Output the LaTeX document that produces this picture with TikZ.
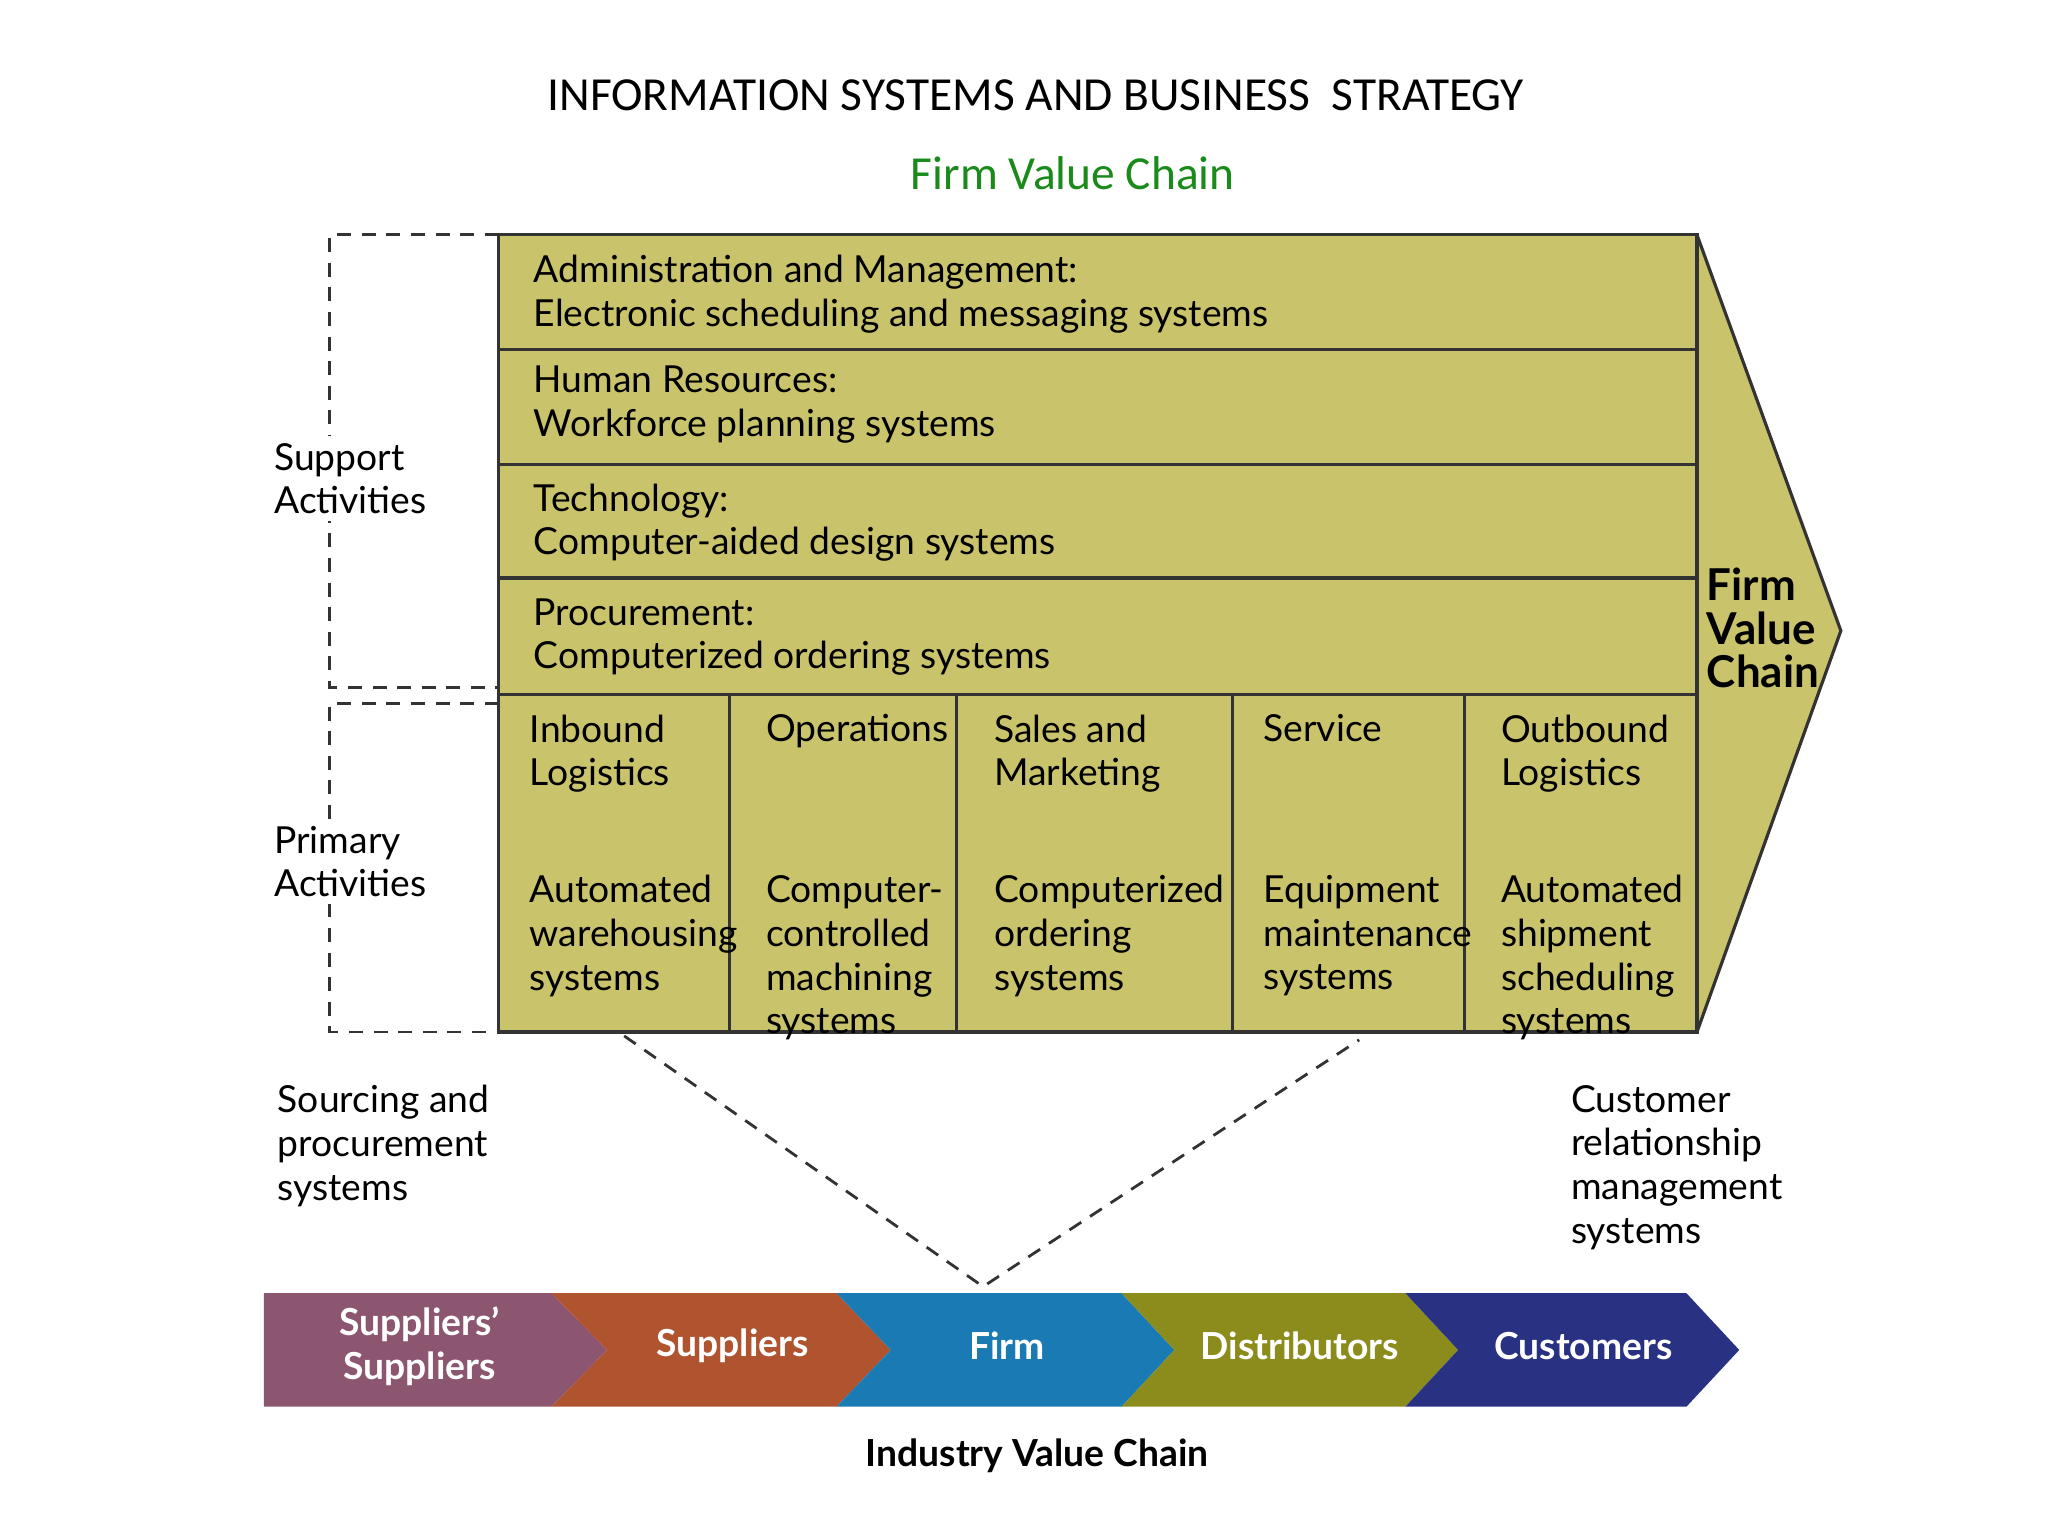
\documentclass[tikz,border=0pt]{standalone}
\usepackage{fontspec}
\setmainfont{Lato}
\newfontfamily\titlefont{Carlito}
\begin{document}
\begin{tikzpicture}[x=0.013196cm,y=-0.013196cm,
  txt/.style={anchor=north west,align=left,font=\fontsize{10.6}{12.4}\selectfont,inner sep=0pt},
  box/.style={draw=black!80,line width=0.9pt},
  dsh/.style={dashed,line width=0.8pt,black!80,dash pattern=on 4pt off 3pt},
  chain/.style={white,font=\bfseries\fontsize{10.6}{12.4}\selectfont,align=center}]
\definecolor{olv}{HTML}{C9C46B}
\definecolor{c1}{HTML}{8C5570}
\definecolor{c2}{HTML}{B0532F}
\definecolor{c3}{HTML}{1A7AB3}
\definecolor{c4}{HTML}{8B8C1C}
\definecolor{c5}{HTML}{283182}
\definecolor{grn}{HTML}{1A8A1A}
\useasboundingbox (0,0) rectangle (1552,1164);
\node[font=\titlefont\fontsize{13.5}{16}\selectfont] (title) at (785,72) {INFORMATION SYSTEMS AND BUSINESS\ \ STRATEGY};
\node[font=\titlefont\fontsize{13.5}{16}\selectfont,text=grn] (sub) at (813,131) {Firm Value Chain};
% main shape
\fill[olv] (378,178) -- (1286,178) -- (1395,478) -- (1286,782) -- (378,782) -- cycle;
\draw[box] (1286,178) -- (1395,478) -- (1286,782);
\draw[box] (378,178) rectangle (1286,782);
\draw[dsh,line width=0.9pt] (1286,178) -- (1286,782);
\foreach \y in {265,352,438,526} \draw[box] (378,\y) -- (1286,\y);
\foreach \x in {553,725,934,1110} \draw[box] (\x,526) -- (\x,782);
\node[txt] (a1) at (404,193) {Administration and Management:\\Electronic scheduling and messaging systems};
\node[txt] (a2) at (404,277) {Human Resources:\\Workforce planning systems};
\node[txt] (a3) at (404,366) {Technology:\\Computer-aided design systems};
\node[txt] (a4) at (404,453) {Procurement:\\Computerized ordering systems};
\node[txt] (p1) at (401,541) {Inbound\\Logistics\\[21pt]Automated\\warehousing\\systems};
\node[txt] (p2) at (580,541) {Operations\\\phantom{X}\\[21pt]Computer-\\controlled\\machining\\systems};
\node[txt] (p3) at (753,541) {Sales and\\Marketing\\[21pt]Computerized\\ordering\\systems};
\node[txt] (p4) at (957,541) {Service\\\phantom{X}\\[21pt]Equipment\\maintenance\\systems};
\node[txt] (p5) at (1137,541) {Outbound\\Logistics\\[21pt]Automated\\shipment\\scheduling\\systems};
\node[txt,font=\bfseries\fontsize{12.5}{12.4}\selectfont] (fvc) at (1293,430) {Firm\\Value\\Chain};
% brackets
\draw[dsh] (378,178) -- (250,178) -- (250,521) -- (378,521);
\draw[dsh] (378,533) -- (250,533) -- (250,782) -- (378,782);
\node[txt,fill=white,inner sep=2pt] (sa) at (202,330) {Support\\Activities};
\node[txt,fill=white,inner sep=2pt] (pa) at (202,620) {Primary\\Activities};
% V lines
\coordinate (v1) at (473,785); \coordinate (v2) at (745,975); \coordinate (v3) at (1030,788);
\draw[dsh] (v1) -- (v2) -- (v3);
\node[txt] (src) at (210,822) {Sourcing and\\procurement\\systems};
\node[txt] (crm) at (1190,822) {Customer\\relationship\\management\\systems};
% industry chain
\fill[c1] (200,980) -- (418,980) -- (460,1023) -- (418,1066) -- (200,1066) -- cycle;
\fill[c2] (418,980) -- (634,980) -- (675,1023) -- (634,1066) -- (418,1066) -- (460,1023) -- cycle;
\fill[c3] (634,980) -- (850,980) -- (890,1023) -- (850,1066) -- (634,1066) -- (675,1023) -- cycle;
\fill[c4] (850,980) -- (1065,980) -- (1105,1023) -- (1065,1066) -- (850,1066) -- (890,1023) -- cycle;
\fill[c5] (1065,980) -- (1278,980) -- (1318,1023) -- (1278,1066) -- (1065,1066) -- (1105,1023) -- cycle;
\node[chain] (s1) at (318,1020) {Suppliers'\\Suppliers};
\node[chain] (s2) at (555,1020) {Suppliers};
\node[chain] (s3) at (763,1020) {Firm};
\node[chain] (s4) at (985,1020) {Distributors};
\node[chain] (s5) at (1200,1020) {Customers};
\node[font=\bfseries\fontsize{10.6}{12.4}\selectfont] (ivc) at (786,1103) {Industry Value Chain};
\end{tikzpicture}
\end{document}
